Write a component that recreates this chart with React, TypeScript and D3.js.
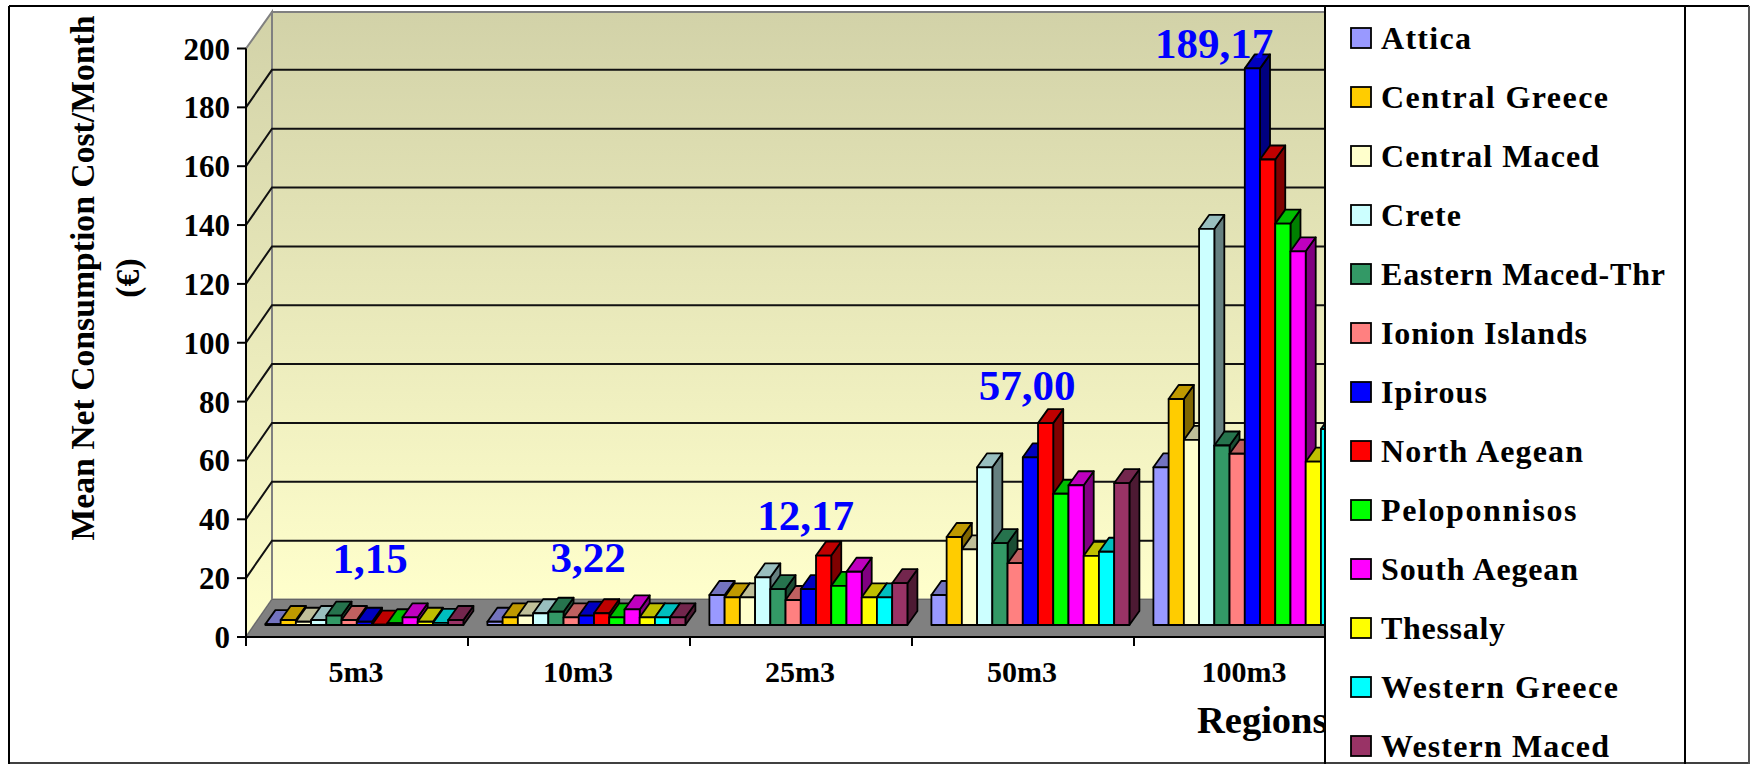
import React from "react";
import * as d3 from "d3";

const categories = ["5m3", "10m3", "25m3", "50m3", "100m3"];
const regions = ["Attica", "Central Greece", "Central Maced", "Crete", "Eastern Maced-Thr", "Ionion Islands", "Ipirous", "North Aegean", "Peloponnisos", "South Aegean", "Thessaly", "Western Greece", "Western Maced"];
const colors = ["#9999FF", "#FFCC00", "#FFFFCC", "#CCFFFF", "#339966", "#FF8080", "#0000FF", "#FF0000", "#00FF00", "#FF00FF", "#FFFF00", "#00FFFF", "#993366"];
const legendTextWidths = [90, 227, 218, 80, 284, 206, 106, 202, 195.5, 197, 124, 237, 228];
const v5 = [0.3, 1.7, 1.1, 1.7, 3.2, 1.7, 1.1, 0.1, 0.6, 2.6, 1.1, 0.7, 1.7];
const v10 = [1.1, 2.6, 3.2, 4, 4.5, 2.6, 3.2, 4, 2.6, 5.3, 2.6, 2.6, 2.6];
const v25 = [10.2, 9.4, 9.4, 16.2, 12.2, 8.5, 12.2, 23.6, 13.3, 18.1, 9.4, 9.4, 14.2];
const v50 = [10.2, 29.9, 25.7, 53.6, 27.8, 21, 57, 68.6, 44.6, 47.5, 23.5, 24.9, 48.2];
const v100 = [53.6, 76.8, 62.9, 134.6, 61, 58.2, 189.17, 158.2, 136.4, 127, 55.5, 66.6, 100];
const seriesByCategory = [v5, v10, v25, v50, v100];
const callouts = ["1,15", "3,22", "12,17", "57,00", "189,17"];
const yTicks = d3.range(0, 201, 20);

const FONT = "'Liberation Serif', serif";
const dx = 26, dy = 37.5, bdx = 10, bdy = 14;
const left = 246, bottom = 637, top = 48.5, clipRight = 1325;
const y = d3.scaleLinear().domain([0, 200]).range([bottom, top]);
const x0 = d3.scaleBand().domain(categories).range([left, left + 222 * 5]);
const x1 = d3.scaleBand().domain(regions).range([19.4, 217.4]);
const base = 12;
const dark = (c: string, k: number) => { const r = d3.rgb(c); return d3.rgb(r.r * k, r.g * k, r.b * k).formatHex(); };

export default function App() {
  const right = clipRight + 40;
  return (
    <svg width={1752} height={764} style={{ position: "absolute", left: 0, top: 0, background: "#fff", fontFamily: FONT }}>
      <defs>
        <linearGradient id="wall" x1="0" y1="0" x2="0" y2="1">
          <stop offset="0" stopColor="#D2D2A8" />
          <stop offset="1" stopColor="#FFFFCC" />
        </linearGradient>
        <clipPath id="plot"><rect x={0} y={0} width={clipRight} height={764} /></clipPath>
      </defs>
      <g clipPath="url(#plot)">
        <rect x={left + dx} y={top - dy + 1} width={right - left} height={bottom - top - 1} fill="url(#wall)" stroke="#808080" strokeWidth={2} />
        <path d={`M${left},${top}L${left + dx},${top - dy + 1}V${bottom - dy}L${left},${bottom}Z`} fill="url(#wall)" stroke="#808080" strokeWidth={2} />
        <path d={`M${left},${bottom}L${left + dx},${bottom - dy}H${right}V${bottom}Z`} fill="#808080" stroke="#666" strokeWidth={1} />
        {yTicks.slice(1, -1).map((t) => (
          <path key={t} d={`M${left},${y(t)}L${left + dx},${y(t) - dy}H${right}`} fill="none" stroke="#111" strokeWidth={2} />
        ))}
        {seriesByCategory.map((vals, ci) => {
          const cx = x0(categories[ci])!;
          return vals.map((v, i) => {
            const bx = cx + x1(regions[i])!;
            const w = x1.bandwidth();
            const by = bottom - base;
            const ty = y(v) - base;
            const c = colors[i];
            return (
              <g key={ci + "-" + i} stroke="#000" strokeWidth={1.8} strokeLinejoin="round">
                <path d={`M${bx + w},${by}l${bdx},${-bdy}V${ty - bdy}l${-bdx},${bdy}Z`} fill={dark(c, 0.5)} />
                <path d={`M${bx},${ty}l${bdx},${-bdy}h${w}l${-bdx},${bdy}Z`} fill={dark(c, 0.75)} />
                <rect x={bx} y={ty} width={w} height={by - ty} fill={c} />
              </g>
            );
          });
        })}
        <line x1={left} x2={right} y1={bottom} y2={bottom} stroke="#000" strokeWidth={2} />
        {d3.range(0, 6).map((i) => (
          <line key={i} x1={left + 222 * i} x2={left + 222 * i} y1={bottom} y2={bottom + 9} stroke="#000" strokeWidth={2} />
        ))}
      </g>
      <line x1={left} x2={left} y1={top} y2={bottom} stroke="#000" strokeWidth={2} />
      {yTicks.map((t) => (
        <g key={t}>
          <line x1={left - 9} x2={left} y1={y(t)} y2={y(t)} stroke="#000" strokeWidth={2} />
          <text x={left - 16} y={y(t) + 11} textAnchor="end" fontSize={31} fontWeight="bold">{t}</text>
        </g>
      ))}
      {categories.map((c) => (
        <text key={c} x={x0(c)! + 110} y={682} textAnchor="middle" fontSize={30} fontWeight="bold">{c}</text>
      ))}
      {callouts.map((c, i) => (
        <text key={c} x={[370, 588, 805.5, 1027, 1214][i]} y={[573, 572, 530, 400, 58][i]} textAnchor="middle" fontSize={43} fontWeight="bold" fill="#0000FF">{c}</text>
      ))}
      <text x={1197} y={733} fontSize={38.5} fontWeight="bold">Regions</text>
      <g transform="translate(94,278) rotate(-90)">
        <text textAnchor="middle" fontSize={33.7} fontWeight="bold">Mean Net Consumption Cost/Month</text>
        <text x={0} y={45} textAnchor="middle" fontSize={33.7} fontWeight="bold">(€)</text>
      </g>
      <rect x={1325} y={6} width={360} height={758} fill="#fff" stroke="none" />
      {regions.map((r, i) => {
        const cy = 38 + i * 59;
        return (
          <g key={r}>
            <rect x={1351} y={cy - 10} width={20} height={20} fill={colors[i]} stroke="#000" strokeWidth={1.8} />
            <text x={1381} y={cy + 11} fontSize={32} fontWeight="bold" textLength={legendTextWidths[i]} lengthAdjust="spacing">{r}</text>
          </g>
        );
      })}
      <line x1={9} x2={1749} y1={6} y2={6} stroke="#000" strokeWidth={2} />
      <line x1={9} x2={9} y1={6} y2={764} stroke="#000" strokeWidth={2} />
      <line x1={9} x2={1749} y1={763} y2={763} stroke="#000" strokeWidth={1.5} />
      <line x1={1325} x2={1325} y1={6} y2={764} stroke="#000" strokeWidth={2} />
      <line x1={1685} x2={1685} y1={6} y2={764} stroke="#000" strokeWidth={2} />
      <line x1={1749} x2={1749} y1={6} y2={764} stroke="#555" strokeWidth={2} />
    </svg>
  );
}
